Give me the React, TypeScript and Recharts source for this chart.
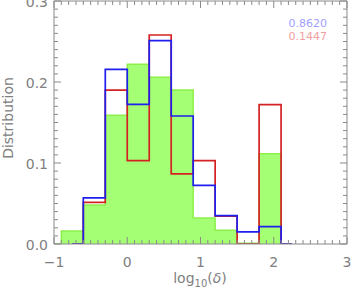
import React from 'react';
import { ComposedChart, Area, Line, XAxis, YAxis, ReferenceLine } from 'recharts';

// ---- data ----
const binStarts = [-0.9, -0.6, -0.3, 0, 0.3, 0.6, 0.9, 1.2, 1.5, 1.8];
const binWidth = 0.3;
const greenValues = [0.016, 0.048, 0.159, 0.222, 0.206, 0.19, 0.032, 0.017, 0.001, 0.1115];
const blueValues = [0, 0.057, 0.2155, 0.1725, 0.251, 0.158, 0.0725, 0.035, 0.015, 0.0215];
const redValues = [0, 0.0515, 0.19, 0.103, 0.258, 0.0865, 0.103, 0.0345, 0, 0.172];
const greenRange = [-1, 2.1];
const lineRange = [-0.75, 2.25];
const legendLabels = ['0.8620', '0.1447'];
const xMajorTicks = [-1, 0, 1, 2, 3];
const yMajorTicks = [0, 0.1, 0.2, 0.3];

// ---- layout ----
const W = 351;
const H = 289;
const PLOT_LEFT = 54;
const PLOT_RIGHT = 347;
const PLOT_TOP = 1;
const PLOT_BOTTOM = 244;
const AXIS = '#8a8a8a';
const TEXT = '#808080';
const FONT = 'DejaVu Sans';

const EPS = 1e-9;
function stepValue(series: number[], x: number, range: number[]): number | null {
  if (x < range[0] - EPS || x > range[1] + EPS) return null;
  for (let i = 0; i < binStarts.length; i++) {
    if (x >= binStarts[i] - EPS && x < binStarts[i] + binWidth - EPS) return series[i];
  }
  return 0;
}

const xs = Array.from(
  new Set([greenRange[0], lineRange[0], ...binStarts, greenRange[1], lineRange[1]].map((v) => Math.round(v * 1000) / 1000))
).sort((a, b) => a - b);

const rows = xs.map((x) => ({
  x,
  green: stepValue(greenValues, x, greenRange),
  blue: stepValue(blueValues, x, lineRange),
  red: stepValue(redValues, x, lineRange),
}));

function subdivide(majors: number[], n: number): number[] {
  const out: number[] = [];
  for (let i = 0; i < majors.length - 1; i++) {
    const a = majors[i];
    const b = majors[i + 1];
    for (let k = 0; k < n; k++) out.push(Math.round((a + ((b - a) * k) / n) * 10000) / 10000);
  }
  out.push(majors[majors.length - 1]);
  return out;
}
const xTicks = subdivide(xMajorTicks, 10);
const yTicks = subdivide(yMajorTicks, 10);

const isMajor = (v: number, majors: number[]) => majors.some((m) => Math.abs(m - v) < 1e-6);

const XTick = (props: any) => {
  const { x, payload } = props;
  const v = payload.value;
  const major = isMajor(v, xMajorTicks);
  const len = major ? 7 : 4;
  return (
    <g>
      <line x1={x} x2={x} y1={PLOT_BOTTOM} y2={PLOT_BOTTOM - len} stroke={AXIS} strokeWidth={1} />
      <line x1={x} x2={x} y1={PLOT_TOP} y2={PLOT_TOP + len} stroke={AXIS} strokeWidth={1} />
      {major && (
        <text x={x} y={267} textAnchor="middle" fontSize={14} fontFamily={FONT} fill={TEXT}>
          {v < 0 ? '\u2212' + Math.abs(v) : String(v)}
        </text>
      )}
    </g>
  );
};

const YTick = (props: any) => {
  const { y, payload } = props;
  const v = payload.value;
  const major = isMajor(v, yMajorTicks);
  const len = major ? 7 : 4;
  return (
    <g>
      <line x1={PLOT_LEFT} x2={PLOT_LEFT + len} y1={y} y2={y} stroke={AXIS} strokeWidth={1} />
      <line x1={PLOT_RIGHT} x2={PLOT_RIGHT - len} y1={y} y2={y} stroke={AXIS} strokeWidth={1} />
      {major && (
        <text x={PLOT_LEFT - 6} y={y + 6} textAnchor="end" fontSize={14} fontFamily={FONT} fill={TEXT}>
          {v.toFixed(1)}
        </text>
      )}
    </g>
  );
};

export default function App() {
  return (
    <div style={{ position: 'absolute', left: 0, top: 0, width: W, height: H, background: '#fff' }}>
      <ComposedChart
        width={W}
        height={H}
        data={rows}
        margin={{ top: PLOT_TOP, right: W - PLOT_RIGHT, bottom: 0, left: 0 }}
      >
        <XAxis
          dataKey="x"
          type="number"
          domain={[-1, 3]}
          ticks={xTicks}
          interval={0}
          allowDataOverflow
          height={H - PLOT_BOTTOM}
          axisLine={{ stroke: AXIS }}
          tickLine={false}
          tick={<XTick />}
        />
        <YAxis
          type="number"
          domain={[0, 0.3]}
          ticks={yTicks}
          interval={0}
          allowDataOverflow
          width={PLOT_LEFT}
          axisLine={{ stroke: AXIS }}
          tickLine={false}
          tick={<YTick />}
        />
        <ReferenceLine y={0.3} stroke={AXIS} strokeWidth={1} />
        <ReferenceLine x={3} stroke={AXIS} strokeWidth={1} />
        <Area
          dataKey="green"
          type="stepAfter"
          baseValue={0}
          fill="#a4ff74"
          fillOpacity={1}
          stroke="#8cf04c"
          strokeWidth={1.5}
          isAnimationActive={false}
          dot={false}
          activeDot={false}
        />
        <Line
          dataKey="red"
          type="stepAfter"
          stroke="#d42222"
          strokeWidth={1.7}
          dot={false}
          activeDot={false}
          isAnimationActive={false}
        />
        <Line
          dataKey="blue"
          type="stepAfter"
          stroke="#1f1fee"
          strokeWidth={1.7}
          dot={false}
          activeDot={false}
          isAnimationActive={false}
        />
        <text x={327} y={27} textAnchor="end" fontSize={11} fontFamily={FONT} fill="#a0a0ff">
          {legendLabels[0]}
        </text>
        <text x={327} y={40} textAnchor="end" fontSize={11} fontFamily={FONT} fill="#f0a0a0">
          {legendLabels[1]}
        </text>
        <text x={200} y={283} textAnchor="middle" fontSize={14} fontFamily={FONT} fill={TEXT}>
          log
          <tspan fontSize={10} dy={4}>10</tspan>
          <tspan dy={-4}>(</tspan>
          <tspan fontStyle="italic">δ</tspan>
          <tspan>)</tspan>
        </text>
        <text
          x={13}
          y={118}
          transform="rotate(-90 13 118)"
          textAnchor="middle"
          fontSize={14}
          fontFamily={FONT}
          fill={TEXT}
        >
          Distribution
        </text>
      </ComposedChart>
    </div>
  );
}
